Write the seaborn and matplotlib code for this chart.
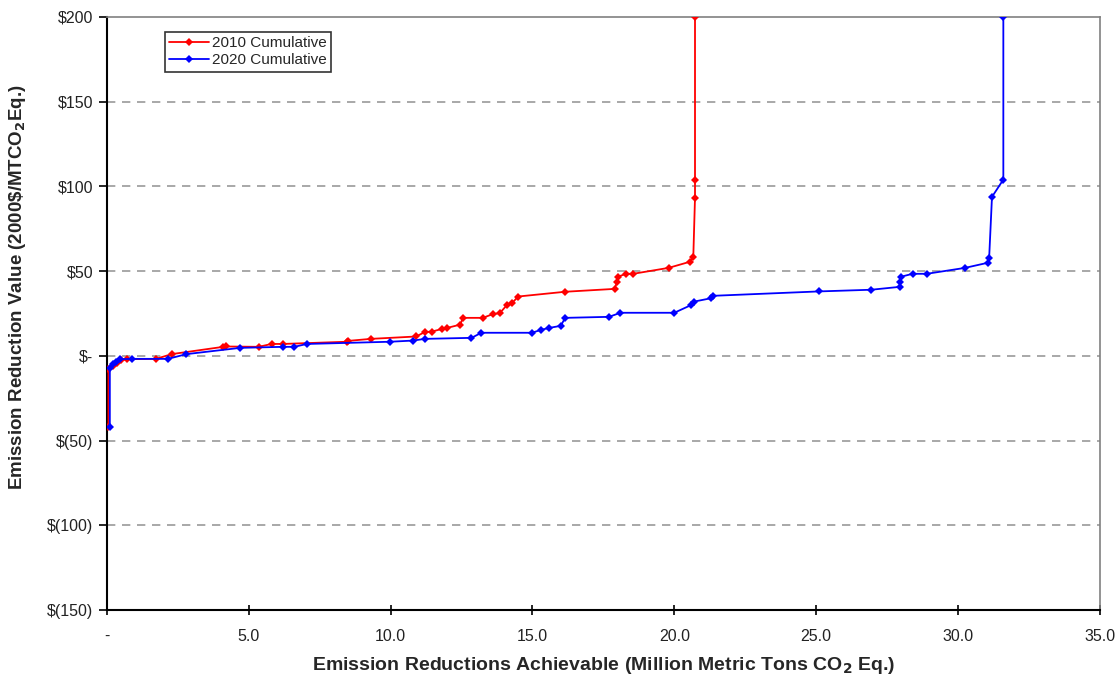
import pandas as pd
import matplotlib.pyplot as plt
import seaborn as sns

# Marginal abatement curve values
x_2010 = [0.05, 0.05, 0.2, 0.35, 0.5, 0.7, 1.73, 2.28, 4.1, 4.2, 5.35, 5.8, 6.2,
          8.45, 8.5, 9.3, 10.9, 11.2, 11.45, 11.8, 12.0, 12.45, 12.55, 13.25,
          13.6, 13.85, 14.1, 14.27, 14.5, 16.15, 17.9, 17.98, 18.0, 18.3, 18.55,
          19.8, 20.55, 20.67, 20.73, 20.73, 20.73]
y_2010 = [-42, -8, -6, -4, -2.5, -2, -1.8, 1, 5.3, 5.5, 5.3, 7, 7,
          8.3, 8.8, 10, 11.4, 14, 14.3, 15.8, 16.5, 18.4, 22.4, 22.4,
          24.6, 25.2, 30, 31, 35, 37.8, 39.5, 43.7, 46.6, 48.4, 48.4,
          51.9, 55.5, 58.4, 93.3, 104, 200]

x_2020 = [0.1, 0.1, 0.2, 0.3, 0.45, 0.87, 2.15, 2.8, 4.7, 6.2, 6.6, 7.05,
          9.97, 10.8, 11.2, 12.85, 13.2, 14.98, 15.3, 15.6, 16.0, 16.15, 17.7,
          18.1, 20.0, 20.6, 20.7, 21.3, 21.35, 25.1, 26.95, 27.95, 27.95, 28.0,
          28.4, 28.9, 30.25, 31.05, 31.1, 31.2, 31.6, 31.6]
y_2020 = [-42, -7, -5, -3.5, -2, -1.8, -1.8, 1, 4.7, 5.3, 5.3, 7,
          8.3, 9, 10, 10.6, 13.6, 13.6, 15.3, 16.5, 17.7, 22.4, 23,
          25.4, 25.4, 30, 32, 34, 35.4, 38, 39, 40.7, 43.7, 46.7,
          48.4, 48.4, 51.9, 54.9, 57.8, 93.8, 104, 200]

y_ticks = [200, 150, 100, 50, 0, -50, -100, -150]
y_tick_labels = ["$200", "$150", "$100", "$50", "$-", "$(50)", "$(100)", "$(150)"]
x_ticks = [0, 5, 10, 15, 20, 25, 30, 35]
x_tick_labels = ["-", "5.0", "10.0", "15.0", "20.0", "25.0", "30.0", "35.0"]

df_2010 = pd.DataFrame({"x": x_2010, "y": y_2010})
df_2020 = pd.DataFrame({"x": x_2020, "y": y_2020})

sns.set_style("white")
plt.rcParams["font.family"] = ["Liberation Sans", "DejaVu Sans"]

fig = plt.figure(figsize=(11.18, 6.77), dpi=100)
ax = fig.add_axes([0.0957, 0.099, 0.888, 0.876])

sns.lineplot(data=df_2010, x="x", y="y", sort=False, estimator=None, color="#ff0000",
             marker="D", markersize=4.5, markeredgewidth=0, linewidth=1.3,
             label="2010 Cumulative", ax=ax, zorder=3)
sns.lineplot(data=df_2020, x="x", y="y", sort=False, estimator=None, color="#0000ff",
             marker="D", markersize=4.5, markeredgewidth=0, linewidth=1.3,
             label="2020 Cumulative", ax=ax, zorder=4)

ax.set_xlim(0, 35)
ax.set_ylim(-150, 200)
ax.set_yticks(y_ticks)
ax.set_yticklabels(y_tick_labels, fontsize=11.5, color="#222222")
ax.set_xticks(x_ticks)
ax.set_xticklabels(x_tick_labels, fontsize=11.5, color="#222222")

for v in [150, 100, 50, 0, -50, -100]:
    ax.axhline(v, color="#999999", linestyle=(0, (5, 4)), linewidth=1.2, zorder=1)

for side in ["left", "bottom"]:
    ax.spines[side].set_color("black")
    ax.spines[side].set_linewidth(1.5)
for side in ["top", "right"]:
    ax.spines[side].set_color("#808080")
    ax.spines[side].set_linewidth(1.2)

ax.tick_params(axis="y", direction="out", length=6, width=1.2, color="black", left=True, pad=4)
ax.tick_params(axis="x", direction="inout", length=7, width=1.2, color="black", bottom=True, pad=10)

ax.set_xlabel(r"Emission Reductions Achievable (Million Metric Tons CO$_\mathbf{2}$ Eq.)",
              fontsize=14, fontweight="bold", labelpad=8)
ax.set_ylabel(r"Emission Reduction Value (2000\$/MTCO$_\mathbf{2}$Eq.)",
              fontsize=13.5, fontweight="bold")
ax.yaxis.set_label_coords(-0.08, 0.545)

leg = ax.legend(loc="upper left", bbox_to_anchor=(0.058, 0.975), fontsize=11,
                frameon=True, fancybox=False, handlelength=2.6, handletextpad=0.2,
                borderpad=0.3, labelspacing=0.2, borderaxespad=0)
leg.get_frame().set_edgecolor("black")
leg.get_frame().set_linewidth(1.2)

fig.savefig("out.png", dpi=100)
